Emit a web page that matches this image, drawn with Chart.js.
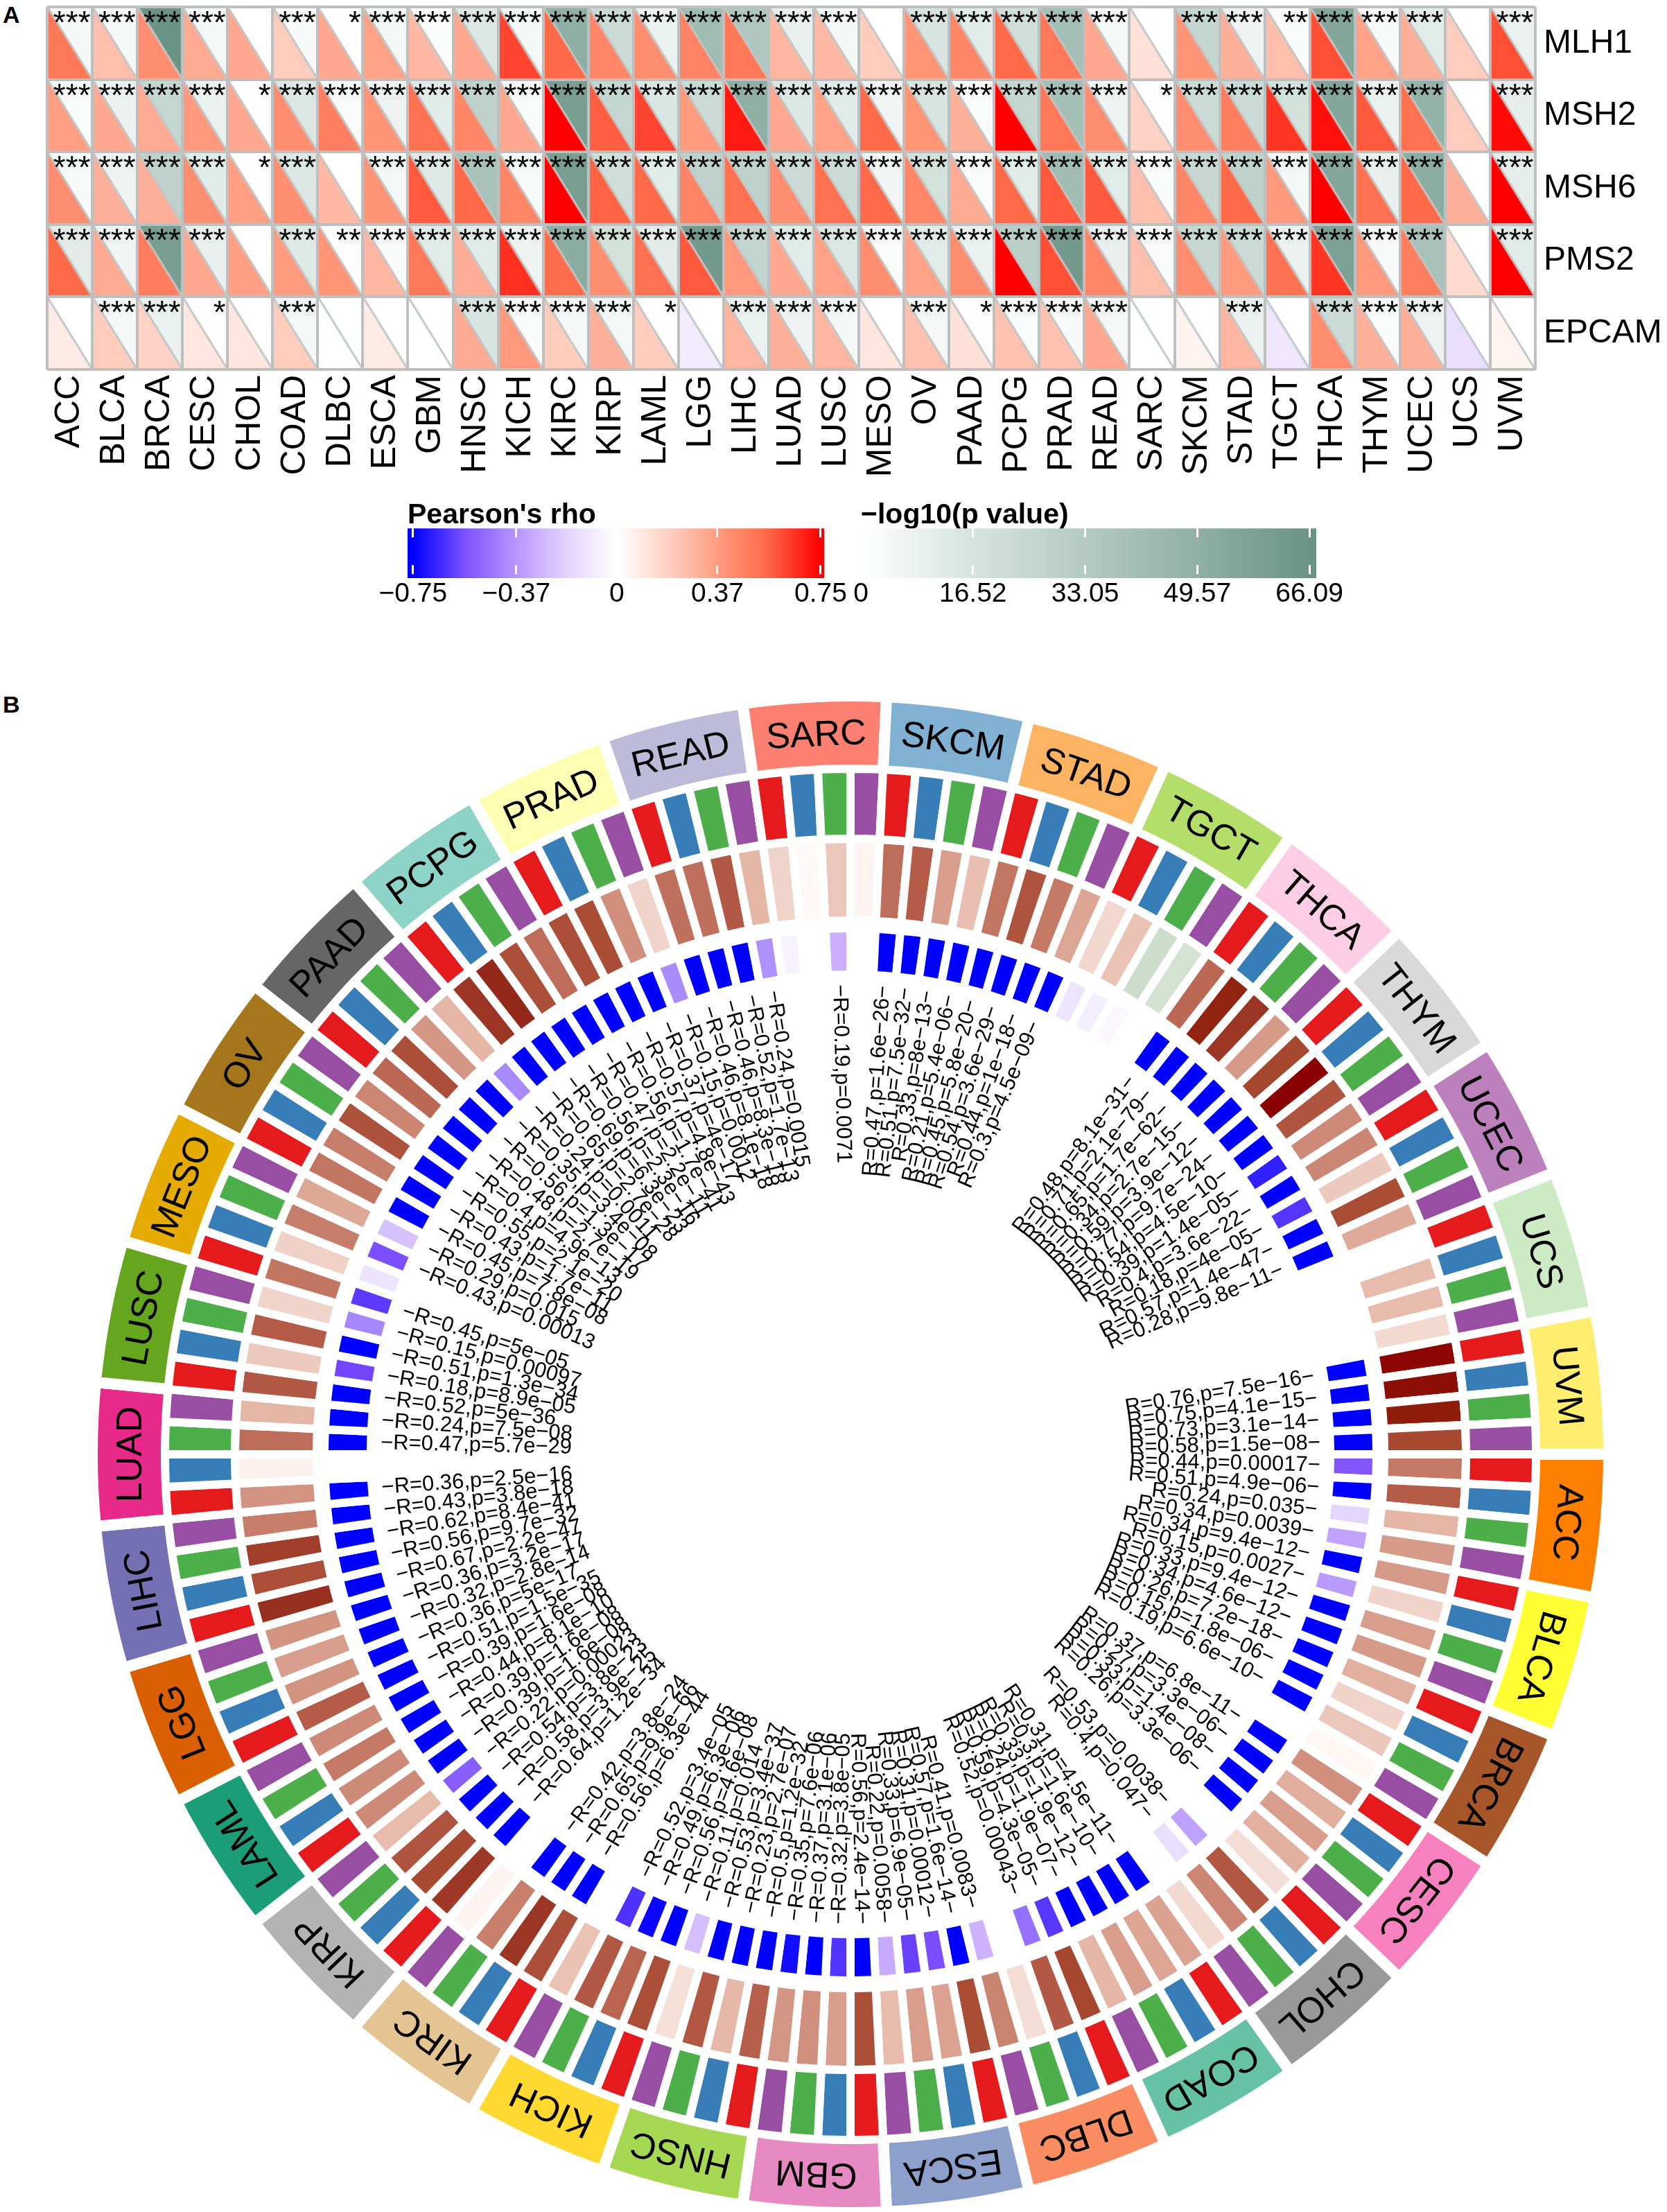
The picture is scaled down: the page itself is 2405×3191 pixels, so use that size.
<!DOCTYPE html>
<html>
<head>
<meta charset="utf-8">
<title>MMR genes pan-cancer</title>
<script src="https://cdn.jsdelivr.net/npm/chart.js@4"></script>
<style>
  html, body { margin: 0; background: #fff; }
  body { position: relative; width: 2405px; height: 3191px; overflow: hidden; font-family: "Liberation Sans", sans-serif; }
  canvas { position: absolute; }
  .panel { position: absolute; font-weight: bold; font-size: 34px; color: #000; }
</style>
</head>
<body>
<div class="panel" style="left:4px;top:2px">A</div>
<div class="panel" style="left:4px;top:997px">B</div>
<canvas id="ringChart" width="2204" height="2204" style="left:125px;top:996px"></canvas>
<canvas id="cellChart" width="1990" height="1990" style="left:232px;top:1103px"></canvas>
<canvas id="heatChart" width="2405" height="720" style="left:0;top:0"></canvas>
<canvas id="rhoChart" width="730" height="165" style="left:500px;top:719px"></canvas>
<canvas id="logpChart" width="760" height="165" style="left:1200px;top:719px"></canvas>
<script>
const cancers = ['ACC','BLCA','BRCA','CESC','CHOL','COAD','DLBC','ESCA','GBM','HNSC','KICH','KIRC','KIRP','LAML','LGG','LIHC','LUAD','LUSC','MESO','OV','PAAD','PCPG','PRAD','READ','SARC','SKCM','STAD','TGCT','THCA','THYM','UCEC','UCS','UVM'];
const genes = ['MLH1','MSH2','MSH6','PMS2','EPCAM'];

// panel A, lower triangle: Pearson's rho
const rhoMLH1  = [.5,.25,.42,.32,.33,.2,.33,.35,.27,.33,.62,.55,.45,.42,.46,.5,.28,.27,.2,.4,.45,.55,.5,.33,.12,.4,.3,.25,.6,.35,.3,.2,.6];
const rhoMSH2  = [.36,.33,.32,.38,.33,.42,.47,.4,.52,.45,.33,.75,.57,.62,.37,.7,.33,.35,.55,.4,.3,.75,.5,.42,.18,.42,.47,.65,.72,.58,.52,.2,.73];
const rhoMSH6  = [.42,.3,.3,.42,.36,.42,.27,.4,.58,.55,.45,.75,.56,.55,.46,.52,.42,.52,.55,.45,.32,.55,.58,.58,.25,.45,.55,.38,.75,.52,.55,.3,.75];
const rhoPMS2  = [.55,.32,.48,.33,.36,.37,.4,.28,.5,.31,.66,.54,.42,.52,.58,.38,.33,.35,.42,.35,.42,.75,.6,.45,.25,.42,.37,.52,.65,.38,.47,.15,.75];
const rhoEPCAM = [.08,.2,.18,.1,.1,.2,0,.08,0,.32,.38,.2,.3,.2,-.08,.28,.3,.28,.1,.24,.12,.24,.24,.33,0,.05,.28,-.1,.42,.3,.3,-.14,.05];

// panel A, upper triangle: -log10(p)
const logpMLH1  = [4,4,66,5,0,3,.5,5,1.5,14,5,50,22,8,42,35,9,5,0,16,12,20,40,4,0,25,7,2,55,3,12,0,8];
const logpMSH2  = [2,8,25,8,.5,14,2,7,12,28,2,60,25,15,22,50,14,12,6,16,1.5,25,40,7,1,22,22,18,55,8,48,0,10];
const logpMSH6  = [3,7,28,12,.5,14,0,5,13,38,3,60,20,12,28,28,22,22,6,18,2,12,42,12,2,24,28,5,55,9,52,0,10];
const logpPMS2  = [11,6,60,9,0,13,1,2,12,12,7,52,18,11,62,26,12,14,2,12,8,30,62,9,2,24,22,8,58,3,38,0,12];
const logpEPCAM = [0,4,8,.5,0,5,0,0,0,16,2,4,5,.3,0,8,7,5,0,4,.3,2,3,4,0,0,8,0,22,2,7,0,0];

// panel A, number of significance stars
const starsMLH1  = [3,3,3,3,0,3,1,3,3,3,3,3,3,3,3,3,3,3,0,3,3,3,3,3,0,3,3,2,3,3,3,0,3];
const starsMSH2  = [3,3,3,3,1,3,3,3,3,3,3,3,3,3,3,3,3,3,3,3,3,3,3,3,1,3,3,3,3,3,3,0,3];
const starsMSH6  = [3,3,3,3,1,3,0,3,3,3,3,3,3,3,3,3,3,3,3,3,3,3,3,3,3,3,3,3,3,3,3,0,3];
const starsPMS2  = [3,3,3,3,0,3,2,3,3,3,3,3,3,3,3,3,3,3,3,3,3,3,3,3,3,3,3,3,3,3,3,0,3];
const starsEPCAM = [0,3,3,1,0,3,0,0,0,3,3,3,3,1,0,3,3,3,0,3,1,3,3,3,0,0,3,0,3,3,3,0,0];

const rhoRows = [rhoMLH1, rhoMSH2, rhoMSH6, rhoPMS2, rhoEPCAM];
const logpRows = [logpMLH1, logpMSH2, logpMSH6, logpPMS2, logpEPCAM];
const starRows = [starsMLH1, starsMSH2, starsMSH6, starsPMS2, starsEPCAM];

const rhoTicks = [-0.75, -0.37, 0, 0.37, 0.75];
const rhoTickLabels = ['\u22120.75', '\u22120.37', '0', '0.37', '0.75'];
const logpTicks = [0, 16.52, 33.05, 49.57, 66.09];
const logpTickLabels = ['0', '16.52', '33.05', '49.57', '66.09'];

// panel B, 4 cells per cancer, clockwise from ACC
const cellR = [
  .44,.51,.24,.34, .34,.15,.33,.34, .26,.15,.19,.03, .37,.27,.33,.26, .12,.53,.4,.13,
  .31,.3,.33,.24, .59,.52,.12,.41, .57,.31,.33,.22, .56,.32,.37,.35, .5,.23,.53,.11,
  .56,.49,.52,.2, .56,.65,.42,.04, .64,.58,.54,.22, .39,.39,.44,.39, .51,.36,.32,.36,
  .67,.56,.62,.43, .36,.05,.47,.24, .52,.18,.51,.15, .45,.16,.43,.29, .45,.43,.55,.4,
  .48,.56,.35,.24, .65,.69,.56,.47, .56,.57,.37,.15, .46,.46,.52,.24, .15,.02,.19,.04,
  .47,.51,.33,.21, .45,.54,.44,.3, .14,.2,-.12,-.1, .48,.71,.65,.34, .59,.77,.54,.39,
  .4,.18,.57,.28, 0,.22,.22,.13, .76,.75,.73,.58
];
const cellP = [
  '0.00017','4.9e-06','0.035','0.0039', '9.4e-12','0.0027','9.4e-12','4.6e-12', '7.2e-18','1.8e-06','6.6e-10','1', '6.8e-11','3.3e-06','1.4e-08','3.3e-06', '1','0.0038','0.047','1',
  '4.5e-11','1.6e-10','1.9e-12','1.9e-07', '4.3e-05','0.00043','1','0.0083', '1.6e-14','0.00012','6.9e-05','0.0058', '2.4e-14','3.8e-05','3.1e-06','7.6e-06', '1.2e-32','2.7e-07','3.4e-37','0.014',
  '4.6e-08','6.3e-06','3.4e-05','1', '6.3e-44','9.9e-66','3.8e-24','1', '1.2e-34','3.9e-25','3.8e-23','0.00023', '1.6e-08','1.6e-08','8.1e-10','1.6e-08', '1.5e-35','5e-17','2.8e-14','3.2e-17',
  '2.2e-47','9.7e-32','8.4e-41','3.8e-18', '2.5e-16','1','5.7e-29','7.5e-08', '5e-36','8.9e-05','1.3e-34','0.00097', '5e-05','0.06','0.00013','0.015', '7.8e-08','1.7e-11','2.1e-20','4.9e-13',
  '2.7e-19','1.3e-17','3.4e-08','0.0011', '2.7e-28','6.3e-23','2.3e-16','2.2e-11', '1.7e-41','4.8e-43','4e-17','0.0012', '8.1e-18','8.3e-18','1.7e-13','0.0015', '0.1','1','0.0071','1',
  '1.6e-26','7.5e-32','8e-13','5.4e-06', '5.8e-20','3.6e-29','1e-18','4.5e-09', '0.06','0.08','0.12','1', '8.1e-31','2.1e-79','1.7e-62','2.7e-15', '3.9e-12','9.7e-24','4.5e-10','1.4e-05',
  '3.6e-22','4e-05','1.4e-47','9.8e-11', '1','1','1','1', '7.5e-16','4.1e-15','3.1e-14','1.5e-08'
];

const cancerColors = ['#FF7F00','#FFFF33','#A65628','#F781BF','#999999','#66C2A5','#FC8D62','#8DA0CB','#E78AC3','#A6D854','#FFD92F','#E5C494','#B3B3B3','#1B9E77','#D95F02','#7570B3','#E7298A','#66A61E','#E6AB02','#A6761D','#666666','#8DD3C7','#FFFFB3','#BEBADA','#FB8072','#80B1D3','#FDB462','#B3DE69','#FCCDE5','#D9D9D9','#BC80BD','#CCEBC5','#FFED6F'];
const geneColors = ['#E41A1C','#377EB8','#4DAF4A','#984EA3'];

const rhoStops = [[-.75,'#0000ff'],[-.55,'#8054ff'],[-.37,'#b896ff'],[-.19,'#e2d2ff'],[0,'#ffffff'],[.19,'#ffd0c2'],[.37,'#ff9c80'],[.55,'#ff6a48'],[.75,'#ff0000']];
const logpStops = [[0,'#ffffff'],[16.52,'#d6e3de'],[33.05,'#b3cac2'],[49.57,'#90b0a5'],[66.09,'#6b9385']];
const ringRStops = [[-.2,'#b0c8b0'],[-.1,'#d4e2d2'],[0,'#ffffff'],[.05,'#fdf1ed'],[.15,'#f0d4ca'],[.24,'#e5b5a5'],[.34,'#d69a88'],[.44,'#c47a65'],[.51,'#b45c48'],[.58,'#a84a32'],[.67,'#983020'],[.73,'#8f1c0a'],[.77,'#8b0000']];
const ringPStops = [[.8,'#ffffff'],[1.33,'#e8deff'],[2.15,'#caaeff'],[3,'#a888ff'],[4,'#7648ff'],[4.85,'#3020ff'],[5.3,'#0000ff']];

function hexRgb(h) { return [1,3,5].map(i => parseInt(h.slice(i, i + 2), 16)); }
function colorAt(stops, v) {
  if (v <= stops[0][0]) return stops[0][1];
  for (let i = 1; i < stops.length; i++) {
    if (v <= stops[i][0]) {
      const t = (v - stops[i-1][0]) / (stops[i][0] - stops[i-1][0]);
      const a = hexRgb(stops[i-1][1]), b = hexRgb(stops[i][1]);
      return 'rgb(' + a.map((c, k) => Math.round(c + (b[k] - c) * t)).join(',') + ')';
    }
  }
  return stops[stops.length-1][1];
}

Chart.defaults.font.family = '"Liberation Sans", sans-serif';
Chart.defaults.color = '#000';
Chart.defaults.animation = false;
Chart.defaults.responsive = false;
Chart.defaults.plugins.legend.display = false;
Chart.defaults.plugins.tooltip.enabled = false;

// ---- panel A ----
const CELL_W = 65, CELL_H = 105;
function triangle(color, lower) {
  const c = document.createElement('canvas');
  c.width = CELL_W; c.height = CELL_H;
  const g = c.getContext('2d');
  g.fillStyle = color;
  g.beginPath();
  g.moveTo(0, 0);
  if (lower) { g.lineTo(0, CELL_H); } else { g.lineTo(CELL_W, 0); }
  g.lineTo(CELL_W, CELL_H);
  g.closePath();
  g.fill();
  g.strokeStyle = 'rgba(190,200,200,.85)';
  g.lineWidth = 3;
  g.beginPath(); g.moveTo(0, 0); g.lineTo(CELL_W, CELL_H); g.stroke();
  return c;
}
function cellPoints(rows) {
  const pts = [];
  rows.forEach((row, r) => row.forEach((v, c) => pts.push({ x: cancers[c], y: genes[r], v: v })));
  return pts;
}
const rhoPoints = cellPoints(rhoRows), logpPoints = cellPoints(logpRows);
const rhoImages = rhoPoints.map(p => triangle(colorAt(rhoStops, p.v), true));
const logpImages = logpPoints.map(p => triangle(colorAt(logpStops, p.v), false));

const starPlugin = {
  id: 'stars',
  afterDraw(chart) {
    const { ctx, scales: { x, y } } = chart;
    ctx.save();
    ctx.fillStyle = '#000';
    ctx.font = '46px "Liberation Sans"';
    ctx.textAlign = 'right';
    ctx.textBaseline = 'top';
    starRows.forEach((row, r) => row.forEach((n, c) => {
      if (n) ctx.fillText('*'.repeat(n), x.getPixelForValue(c) + 30, y.getPixelForValue(r) - 50);
    }));
    ctx.restore();
  }
};

new Chart(document.getElementById('heatChart'), {
  type: 'scatter',
  data: {
    datasets: [
      { data: rhoPoints, pointStyle: ctx => rhoImages[ctx.dataIndex], pointRadius: 5, clip: false },
      { data: logpPoints, pointStyle: ctx => logpImages[ctx.dataIndex], pointRadius: 5, clip: false }
    ]
  },
  options: {
    layout: { padding: { left: 68, top: 10 } },
    scales: {
      x: {
        type: 'category', labels: cancers, offset: true,
        afterFit: s => { s.height = 187; },
        grid: { offset: true, color: '#bfbfbf', lineWidth: 4, z: 1, drawTicks: false },
        border: { display: false },
        ticks: { font: { size: 50 }, minRotation: 90, maxRotation: 90, autoSkip: false, padding: 8 }
      },
      y: {
        type: 'category', labels: genes, offset: true, position: 'right',
        afterFit: s => { s.width = 190; s.paddingTop = 0; s.paddingBottom = 0; },
        grid: { offset: true, color: '#bfbfbf', lineWidth: 4, z: 1, drawTicks: false },
        border: { display: false },
        ticks: { font: { size: 48 }, autoSkip: false, padding: 12 }
      }
    }
  },
  plugins: [starPlugin]
});

// ---- colour bars ----
function colorBar(id, title, stops, min, max, ticks, tickLabels, pad) {
  new Chart(document.getElementById(id), {
    type: 'bar',
    data: {
      labels: [title],
      datasets: [{
        data: [[min, max]],
        barPercentage: 1, categoryPercentage: 1,
        backgroundColor(ctx) {
          const area = ctx.chart.chartArea;
          if (!area) return '#fff';
          const g = ctx.chart.ctx.createLinearGradient(area.left, 0, area.right, 0);
          stops.forEach(s => g.addColorStop(Math.min(1, Math.max(0, (s[0] - min) / (max - min))), s[1]));
          return g;
        }
      }]
    },
    options: {
      indexAxis: 'y',
      layout: { padding: pad },
      plugins: {
        title: { display: true, text: title, align: 'start', color: '#000', font: { size: 41, weight: 'bold' }, padding: { top: 0, bottom: -6 } }
      },
      scales: {
        y: { display: false },
        x: {
          type: 'linear', min: min, max: max,
          afterBuildTicks: s => { s.ticks = ticks.map(v => ({ value: v })); },
          afterFit: s => { s.height = 50; },
          grid: { color: '#fff', lineWidth: 3, z: 1, drawTicks: false },
          border: { display: false, dash: [13, 40] },
          ticks: { font: { size: 39 }, padding: 0, autoSkip: false, maxRotation: 0, callback: (v, i) => tickLabels[i] }
        }
      }
    }
  });
}
colorBar('rhoChart', "Pearson's rho", rhoStops, -0.77, 0.7628, rhoTicks, rhoTickLabels, { left: 88, right: 41 });
colorBar('logpChart', '\u2212log10(p value)', logpStops, 0, 67.1, logpTicks, logpTickLabels, { left: 42, right: 61 });

// ---- panel B ----
const ringLabelPlugin = {
  id: 'ringLabels',
  afterDatasetsDraw(chart) {
    const { ctx } = chart;
    ctx.save();
    ctx.fillStyle = '#000';
    ctx.font = '52px "Liberation Sans"';
    ctx.textAlign = 'center';
    ctx.textBaseline = 'middle';
    chart.getDatasetMeta(0).data.forEach((arc, i) => {
      const a = (arc.startAngle + arc.endAngle) / 2;
      const r = (arc.outerRadius + arc.innerRadius) / 2;
      ctx.save();
      ctx.translate(arc.x + Math.cos(a) * r, arc.y + Math.sin(a) * r);
      ctx.rotate(a + Math.PI / 2);
      ctx.fillText(cancers[i], 0, 0);
      ctx.restore();
    });
    ctx.restore();
  }
};

new Chart(document.getElementById('ringChart'), {
  type: 'doughnut',
  data: {
    labels: cancers,
    datasets: [{ data: cancers.map(() => 1), backgroundColor: cancerColors, borderColor: '#fff', borderWidth: 16 }]
  },
  options: { rotation: 90, cutout: '89.6%' },
  plugins: [ringLabelPlugin]
});

const CELL_TEXT_RADIUS = 678;
const cellLabelPlugin = {
  id: 'cellLabels',
  afterDatasetsDraw(chart) {
    const { ctx } = chart;
    ctx.save();
    ctx.fillStyle = '#000';
    ctx.font = '31px "Liberation Sans"';
    ctx.textBaseline = 'middle';
    chart.getDatasetMeta(3).data.forEach((arc, i) => {
      if (Number(cellP[i]) >= 0.05) return;
      const a = (arc.startAngle + arc.endAngle) / 2;
      const txt = 'R=' + cellR[i] + ',p=' + cellP[i].replace('-', '\u2212');
      const left = Math.cos(a) < 0;
      ctx.save();
      ctx.translate(arc.x + Math.cos(a) * CELL_TEXT_RADIUS, arc.y + Math.sin(a) * CELL_TEXT_RADIUS);
      if (left) {
        ctx.rotate(a + Math.PI);
        ctx.textAlign = 'left';
        ctx.fillText('\u2212' + txt, 0, 0);
      } else {
        ctx.rotate(a);
        ctx.textAlign = 'right';
        ctx.fillText(txt + '\u2212', 0, 0);
      }
      ctx.restore();
    });
    ctx.restore();
  }
};

const cellOnes = cellR.map(() => 1);
new Chart(document.getElementById('cellChart'), {
  type: 'doughnut',
  data: {
    labels: cellR.map((_, i) => cancers[Math.floor(i / 4)]),
    datasets: [
      { data: cellOnes, weight: 101, backgroundColor: cellR.map((_, i) => geneColors[i % 4]), borderColor: '#fff', borderWidth: 12 },
      { data: cellOnes, weight: 118, backgroundColor: cellR.map(r => colorAt(ringRStops, r)), borderColor: '#fff', borderWidth: 12 },
      { data: cellOnes, weight: 11, backgroundColor: 'rgba(0,0,0,0)', borderWidth: 0 },
      { data: cellOnes, weight: 67, backgroundColor: cellP.map(p => colorAt(ringPStops, -Math.log10(Number(p)))), borderColor: '#fff', borderWidth: 12 }
    ]
  },
  options: { rotation: 90, cutout: '69.97%' },
  plugins: [cellLabelPlugin]
});
</script>
</body>
</html>
